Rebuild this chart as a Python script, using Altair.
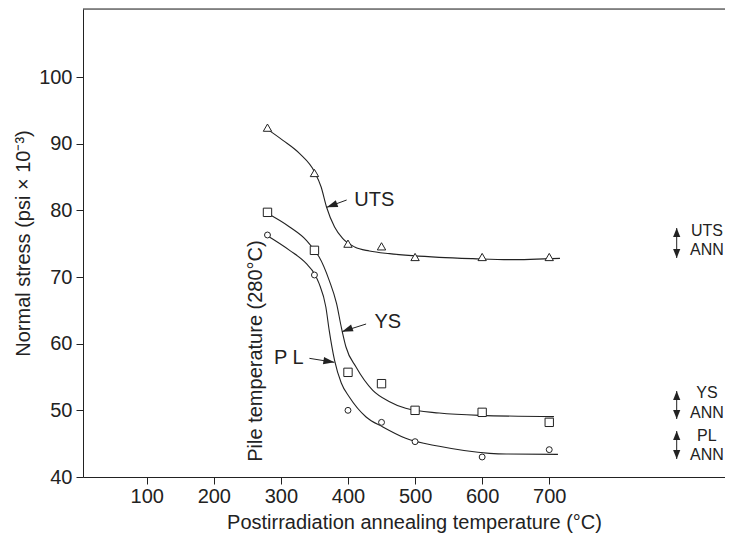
import altair as alt
import pandas as pd

# ---- measured data -------------------------------------------------------
temps = [280, 350, 400, 450, 500, 600, 700]
uts_vals = [92.4, 85.6, 75.0, 74.6, 73.0, 73.0, 73.0]
ys_vals = [79.7, 74.0, 55.7, 54.0, 50.0, 49.7, 48.2]
pl_vals = [76.3, 70.3, 50.0, 48.2, 45.3, 43.0, 44.1]

# fitted curves
uts_curve_t = [278, 303, 328, 350, 360, 368, 380, 392, 410, 432, 462, 496, 536, 586, 640, 716]
uts_curve_v = [92.3, 90.5, 88.5, 85.8, 83.5, 80.5, 77.5, 75.8, 74.5, 73.9, 73.5, 73.2, 72.95, 72.75, 72.6, 72.8]
ys_curve_t = [277, 313, 338, 350, 357, 372, 383, 390, 397, 412, 437, 462, 486, 536, 596, 707]
ys_curve_v = [79.7, 77.5, 75.5, 74.0, 73.0, 69.5, 66.0, 62.5, 59.5, 56.5, 53.0, 51.3, 50.3, 49.6, 49.25, 49.05]
pl_curve_t = [278, 313, 338, 350, 357, 367, 372, 380, 390, 402, 427, 452, 486, 536, 611, 636, 713]
pl_curve_v = [76.3, 74.0, 72.0, 70.5, 69.0, 65.5, 62.0, 57.5, 54.1, 52.0, 49.0, 47.5, 45.8, 44.6, 43.55, 43.45, 43.4]

x_ticks = [100, 200, 300, 400, 500, 600, 700]
y_ticks = [40, 50, 60, 70, 80, 90, 100]
x_domain = [5, 962]
y_domain = [40, 110.2]

# curve labels with arrows: label, text pos, align, arrow tail, arrow tip, head angle
label_text = ["UTS", "YS", "P L"]
label_t = [409.5, 439.4, 334.0]
label_v = [81.5, 63.2, 57.8]
label_align = ["left", "left", "right"]
arrow_tail_t = [398.0, 427.0, 342.5]
arrow_tail_v = [81.55, 62.95, 57.8]
arrow_tip_t = [368.3, 391.0, 379.7]
arrow_tip_v = [80.45, 61.8, 57.2]
arrow_angle = [250, 250, 99]

# right-hand "annealed" markers
ann_text = ["UTS", "ANN", "YS", "ANN", "PL", "ANN"]
ann_t = [935] * 6
ann_v = [76.9, 74.05, 52.6, 49.6, 46.15, 43.3]
ann_arrow_t = [890, 890, 890]
ann_arrow_top = [77.35, 52.9, 46.9]
ann_arrow_bot = [72.85, 48.7, 42.7]

pile_text = "Pile temperature (280°C)"
pile_t = 262.7
pile_v = 58.9

INK = "#222222"
FONT = "Liberation Sans"
W, H = 642, 468

# ---- tables --------------------------------------------------------------
pts = pd.DataFrame({
    "t": temps * 3,
    "v": uts_vals + ys_vals + pl_vals,
    "s": ["UTS"] * 7 + ["YS"] * 7 + ["PL"] * 7,
})
curves = pd.DataFrame({
    "t": uts_curve_t + ys_curve_t + pl_curve_t,
    "v": uts_curve_v + ys_curve_v + pl_curve_v,
    "s": ["UTS"] * len(uts_curve_t) + ["YS"] * len(ys_curve_t) + ["PL"] * len(pl_curve_t),
})
labels = pd.DataFrame({"t": label_t, "v": label_v, "txt": label_text, "al": label_align})
arrows = pd.DataFrame({"t": arrow_tail_t, "v": arrow_tail_v, "t2": arrow_tip_t,
                       "v2": arrow_tip_v, "ang": arrow_angle})
ann = pd.DataFrame({"t": ann_t, "v": ann_v, "txt": ann_text})
ann_ar = pd.DataFrame({"t": ann_arrow_t, "v": ann_arrow_top, "v2": ann_arrow_bot})
ann_heads = pd.DataFrame({"t": ann_arrow_t * 2, "v": ann_arrow_top + ann_arrow_bot,
                          "ang": [0, 0, 0, 180, 180, 180]})
pile = pd.DataFrame({"t": [pile_t], "v": [pile_v], "txt": [pile_text]})
frame = pd.DataFrame({"t": [x_domain[0]], "t2": [x_domain[1]], "v": [y_domain[1]]})

xs = alt.Scale(domain=x_domain, nice=False, zero=False)
ysc = alt.Scale(domain=y_domain, nice=False, zero=False)

x_axis = alt.Axis(values=x_ticks, grid=False, domainColor=INK, tickColor=INK,
                  tickSize=7, labelFontSize=20, labelFont=FONT, labelColor=INK,
                  labelPadding=2, titleFontSize=20, titleFont=FONT, titleColor=INK,
                  titleFontWeight="normal", titleX=331, titleY=45,
                  titleAlign="center", titleBaseline="middle")
y_axis = alt.Axis(values=y_ticks, grid=False, domainColor=INK, tickColor=INK,
                  tickSize=7, labelFontSize=20, labelFont=FONT, labelColor=INK,
                  labelPadding=4, titleFontSize=20, titleFont=FONT, titleColor=INK,
                  titleFontWeight="normal", titleX=-60, titleY=H / 2, titleAngle=270,
                  titleAlign="center", titleBaseline="middle")

XT = "Postirradiation annealing temperature (°C)"
YT = "Normal stress (psi × 10⁻³)"
X = alt.X("t:Q", scale=xs, axis=x_axis, title=XT)
Y = alt.Y("v:Q", scale=ysc, axis=y_axis, title=YT)

curve_layer = alt.Chart(curves).mark_line(color=INK, strokeWidth=1.1, interpolate="monotone").encode(
    x=X, y=Y, detail="s:N")

def marker(series, shape, size):
    return alt.Chart(pts[pts.s == series]).mark_point(
        shape=shape, size=size, color=INK, filled=False, strokeWidth=1, fill="white", fillOpacity=1
    ).encode(x=X, y=Y)

m_uts = marker("UTS", "triangle-up", 70)
m_ys = marker("YS", "square", 70)
m_pl = marker("PL", "circle", 35)

lab_left = alt.Chart(labels[labels.al == "left"]).mark_text(
    align="left", baseline="middle", font=FONT, fontSize=20, color=INK).encode(x=X, y=Y, text="txt:N")
lab_right = alt.Chart(labels[labels.al == "right"]).mark_text(
    align="right", baseline="middle", font=FONT, fontSize=20, color=INK).encode(x=X, y=Y, text="txt:N")

shafts = alt.Chart(arrows).mark_rule(color=INK, strokeWidth=1).encode(
    x=X, y=Y, x2="t2:Q", y2="v2:Q")
heads = alt.Chart(arrows).mark_point(
    shape="M0,0L0.33,1L-0.33,1Z", filled=True, color=INK, size=484, opacity=1
).encode(x=alt.X("t2:Q", scale=xs, axis=x_axis, title=XT),
         y=alt.Y("v2:Q", scale=ysc, axis=y_axis, title=YT),
         angle=alt.Angle("ang:Q", scale=None))

ann_txt = alt.Chart(ann).mark_text(align="center", baseline="middle", font=FONT,
                                   fontSize=16, color=INK).encode(x=X, y=Y, text="txt:N")
ann_shafts = alt.Chart(ann_ar).mark_rule(color=INK, strokeWidth=1).encode(x=X, y=Y, y2="v2:Q")
ann_hd = alt.Chart(ann_heads).mark_point(
    shape="M0,0L0.4,1L-0.4,1Z", filled=True, color=INK, size=324, opacity=1
).encode(x=X, y=Y, angle=alt.Angle("ang:Q", scale=None))

pile_txt = alt.Chart(pile).mark_text(angle=270, align="center", baseline="middle",
                                     font=FONT, fontSize=20, color=INK).encode(x=X, y=Y, text="txt:N")

top_line = alt.Chart(frame).mark_rule(color=INK, strokeWidth=1).encode(x=X, x2="t2:Q", y=Y)

chart = alt.layer(
    top_line, curve_layer, m_uts, m_ys, m_pl, shafts, heads, lab_left, lab_right,
    ann_shafts, ann_hd, ann_txt, pile_txt
).properties(
    width=W, height=H,
    autosize=alt.AutoSizeParams(type="none"),
    padding={"left": 75, "top": 1, "right": 0, "bottom": 58},
).configure_view(stroke=None).configure(background="white")

chart.save("out.html", embed_options={"renderer": "svg", "actions": False})
